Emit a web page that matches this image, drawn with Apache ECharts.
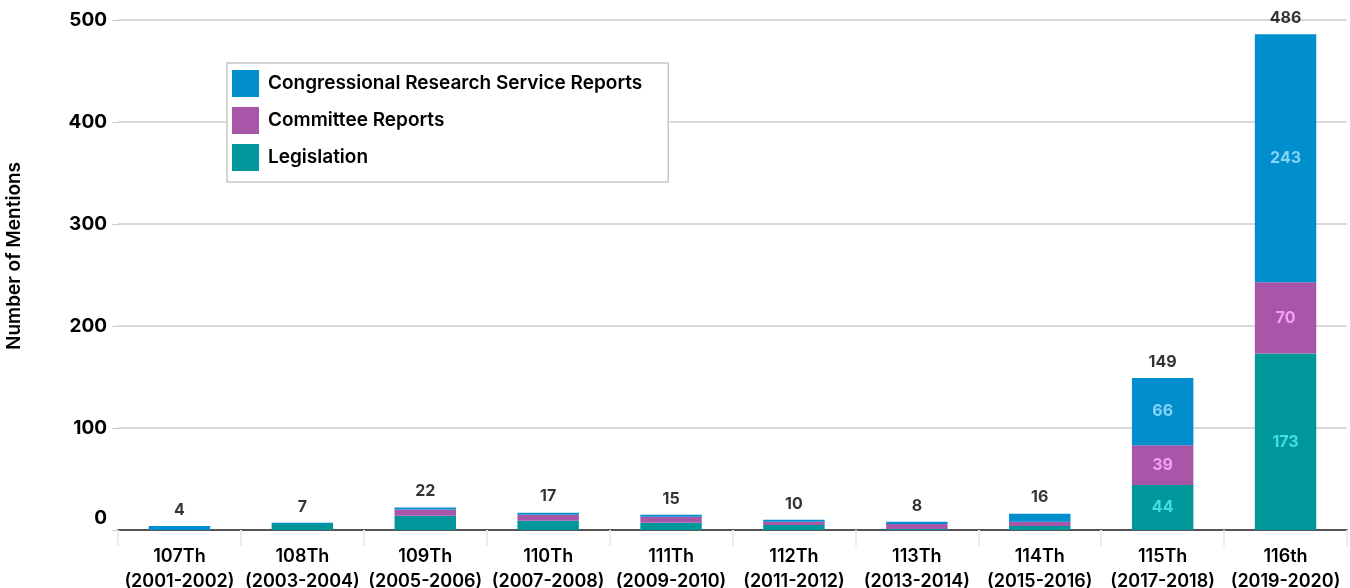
<!DOCTYPE html>
<html>
<head>
<meta charset="utf-8">
<script src="https://cdn.jsdelivr.net/npm/echarts@6/dist/echarts.min.js"></script>
<style>
  html, body { margin: 0; padding: 0; background: #fff; }
  #container { width: 1350px; height: 588px; }
</style>
</head>
<body>
<div id="container"></div>
<script>
var congresses = ['107Th', '108Th', '109Th', '110Th', '111Th', '112Th', '113Th', '114Th', '115Th', '116th'];
var years = ['(2001-2002)', '(2003-2004)', '(2005-2006)', '(2007-2008)', '(2009-2010)', '(2011-2012)', '(2013-2014)', '(2015-2016)', '(2017-2018)', '(2019-2020)'];
var legislation = [0, 6, 14, 9, 7, 5, 1, 4, 44, 173];
var committee = [0, 0, 6, 6, 6, 3, 5, 4, 39, 70];
var crs = [4, 1, 2, 2, 2, 2, 2, 8, 66, 243];
var totals = [4, 7, 22, 17, 15, 10, 8, 16, 149, 486];
var yTicks = [0, 100, 200, 300, 400, 500];

var FONT = 'Inter';
var categories = congresses.map(function (c, i) { return c + '\n' + years[i]; });

// inside labels only on the two big bars
function segData(arr, color) {
  return arr.map(function (v, i) {
    return {
      value: v,
      label: {
        show: v >= 30,
        position: 'inside',
        color: color,
        fontFamily: FONT,
        fontWeight: 700,
        fontSize: 16
      }
    };
  });
}

var myChart = echarts.init(document.getElementById('container'));
var option = {
  animation: false,
  backgroundColor: '#fff',
  grid: { left: 118, right: 3, top: 20, bottom: 58, outerBoundsMode: 'none', containLabel: false },
  legend: {
    orient: 'vertical',
    left: 227,
    top: 63,
    padding: [7, 26, 11, 5],
    icon: 'rect',
    itemWidth: 27,
    itemHeight: 27,
    itemGap: 10,
    borderColor: '#c8c8c8',
    borderWidth: 1.5,
    backgroundColor: '#fff',
    data: ['Congressional Research Service Reports', 'Committee Reports', 'Legislation'],
    textStyle: { fontFamily: FONT, fontSize: 19, fontWeight: 600, color: '#000', padding: [0, 0, 0, 4] }
  },
  xAxis: {
    type: 'category',
    data: categories,
    axisLine: { lineStyle: { color: '#555', width: 2 } },
    axisTick: { show: true, length: 16, lineStyle: { color: '#ececec', width: 2 } },
    axisLabel: {
      fontFamily: FONT, fontSize: 18, fontWeight: 600, color: '#000',
      lineHeight: 25, margin: 14, interval: 0
    }
  },
  yAxis: {
    type: 'value',
    min: 0,
    max: 500,
    interval: 100,
    name: 'Number of Mentions',
    nameLocation: 'middle',
    nameGap: 94,
    nameTextStyle: { fontFamily: FONT, fontSize: 19, fontWeight: 600, color: '#000', padding: [0, 0, 0, 38] },
    axisLine: { show: false },
    axisTick: { show: true, length: 6, lineStyle: { color: '#ccc' } },
    splitLine: { lineStyle: { color: '#cccccc', width: 1.5 } },
    axisLabel: {
      fontFamily: FONT, fontSize: 19, fontWeight: 700, color: '#000', margin: 11,
      formatter: function (v) {
        return yTicks.indexOf(v) === 0 ? '{z|' + v + '}' : String(v);
      },
      rich: { z: { fontFamily: FONT, fontSize: 19, fontWeight: 700, color: '#000', padding: [0, 0, 24, 0] } }
    }
  },
  series: [
    {
      name: 'Legislation',
      type: 'bar',
      stack: 'total',
      barWidth: '50%',
      itemStyle: { color: '#00979b' },
      data: segData(legislation, '#3fe0e2')
    },
    {
      name: 'Committee Reports',
      type: 'bar',
      stack: 'total',
      itemStyle: { color: '#a857a8' },
      data: segData(committee, '#f59ef5')
    },
    {
      name: 'Congressional Research Service Reports',
      type: 'bar',
      stack: 'total',
      itemStyle: { color: '#008ecd' },
      data: segData(crs, '#86d3f8')
    },
    {
      name: 'Total',
      type: 'scatter',
      symbolSize: 0,
      silent: true,
      data: totals,
      label: {
        show: true,
        position: 'top',
        distance: 8,
        fontFamily: FONT,
        fontSize: 16,
        fontWeight: 700,
        color: '#000'
      }
    }
  ]
};
myChart.setOption(option);
</script>
</body>
</html>
